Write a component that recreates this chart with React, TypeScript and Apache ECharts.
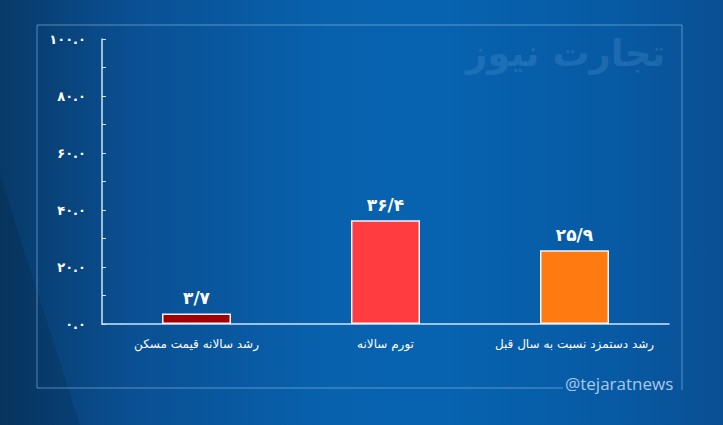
import React, { useEffect, useRef } from "react";
import * as echarts from "echarts";

const categories = ["رشد سالانه قیمت مسکن", "تورم سالانه", "رشد دستمزد نسبت به سال قبل"];
const values = [3.7, 36.4, 25.9];
const barColors = ["#a30006", "#ff3c3f", "#ff7a10"];
const valueLabels = ["۳/۷", "۳۶/۴", "۲۵/۹"];
const yTicks = [0, 20, 40, 60, 80, 100];
const yTickLabels = ["۰.۰", "۲۰.۰", "۴۰.۰", "۶۰.۰", "۸۰.۰", "۱۰۰.۰"];
const watermark = "تجارت نیوز";
const handle = "@tejaratnews";

export default function App() {
  const ref = useRef<HTMLDivElement>(null);
  useEffect(() => {
    document.body.style.margin = "0";
    if (!ref.current) return;
    const chart = echarts.init(ref.current, undefined, { renderer: "svg" });
    const font = "'DejaVu Sans', 'Noto Sans', sans-serif";
    chart.setOption({
      animation: false,
      backgroundColor: "transparent",
      grid: { left: 102, top: 39, width: 567, height: 285, containLabel: false },
      xAxis: {
        type: "category",
        data: categories,
        axisLine: { show: true, lineStyle: { color: "#cfe4f7", width: 1.5 } },
        axisTick: { show: false },
        axisLabel: { color: "#ffffff", fontSize: 12, margin: 14, interval: 0, fontFamily: font },
      },
      yAxis: {
        type: "value",
        min: 0,
        max: 100,
        interval: 20,
        axisLine: { show: true, lineStyle: { color: "#cfe4f7", width: 1.5 } },
        axisTick: { show: true, inside: true, length: 4, lineStyle: { color: "#cfe4f7" } },
        minorTick: { show: true, splitNumber: 2, length: 4, lineStyle: { color: "#cfe4f7" } },
        splitLine: { show: false },
        axisLabel: {
          color: "#ffffff",
          fontSize: 13,
          fontWeight: "bold",
          margin: 16,
          fontFamily: font,
          formatter: (v: number) => {
            const i = yTicks.indexOf(v);
            return i >= 0 ? yTickLabels[i] : "";
          },
        },
      },
      series: [
        {
          type: "bar",
          barWidth: "36.5%",
          data: values.map((v, i) => ({
            value: v,
            itemStyle: { color: barColors[i], borderColor: "#f3f3f3", borderWidth: 1.5 },
          })),
          label: {
            show: true,
            position: "top",
            distance: 7,
            color: "#ffffff",
            fontSize: 17,
            fontWeight: "bold",
            fontFamily: font,
            formatter: (p: any) => valueLabels[p.dataIndex],
          },
        },
      ],
      graphic: [
        {
          type: "polygon",
          silent: true,
          z: -1,
          shape: { points: [[0, 175], [0, 425], [80, 425]] },
          style: { fill: "rgba(0,0,0,0.10)" },
        },
        {
          type: "polyline",
          silent: true,
          shape: { points: [[563, 388], [37, 388], [37, 25], [682, 25], [682, 390]] },
          style: { stroke: "rgba(150,200,240,0.55)", lineWidth: 1, fill: "none" },
        },
        {
          type: "text",
          silent: true,
          left: 466,
          top: 35,
          style: {
            text: watermark,
            fill: "rgba(120,180,235,0.2)",
            font: "bold 37px 'DejaVu Sans', sans-serif",
          },
        },
        {
          type: "text",
          silent: true,
          left: 565,
          top: 375,
          style: {
            text: handle,
            fill: "#a9c9ea",
            font: "17px 'Open Sans', 'Noto Sans', sans-serif",
          },
        },
      ],
    });
    return () => chart.dispose();
  }, []);
  return (
    <div
      ref={ref}
      style={{
        width: 723,
        height: 425,
        background:
          "linear-gradient(90deg, #083a68 0%, #0a4f92 18%, #0861ad 45%, #0763b0 60%, #075aa4 85%, #0a4f93 100%)",
      }}
    />
  );
}
